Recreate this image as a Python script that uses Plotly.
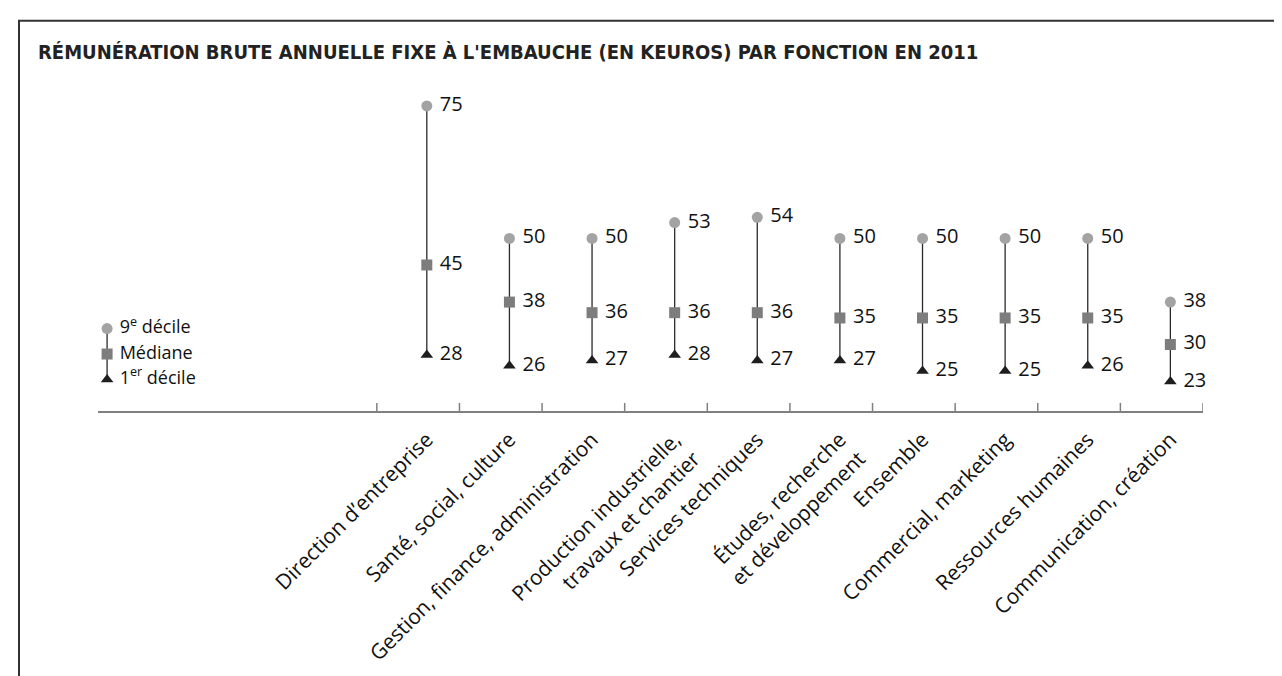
import plotly.graph_objects as go

# ---- data ----
categories = [
    "Direction d’entreprise",
    "Santé, social, culture",
    "Gestion, finance, administration",
    "Production industrielle,<br>travaux et chantier",
    "Services techniques",
    "Études, recherche<br>et développement",
    "Ensemble",
    "Commercial, marketing",
    "Ressources humaines",
    "Communication, création",
]
decile9 = [75, 50, 50, 53, 54, 50, 50, 50, 50, 38]
mediane = [45, 38, 36, 36, 36, 35, 35, 35, 35, 30]
decile1 = [28, 26, 27, 28, 27, 27, 25, 25, 26, 23]

legend_labels = ["9<sup>e</sup> décile", "Médiane", "1<sup>er</sup> décile"]

TITLE = "RÉMUNÉRATION BRUTE ANNUELLE FIXE À L'EMBAUCHE (EN KEUROS) PAR FONCTION EN 2011"

# ---- style ----
FONT = "Open Sans, Noto Sans, sans-serif"
TITLE_FONT = "DejaVu Sans Condensed, Liberation Sans, sans-serif"
C_CIRCLE = "#a3a3a3"
C_SQUARE = "#7d7d7d"
C_TRI = "#1e1e1e"
C_LINE = "#2a2a2a"
C_AXIS = "#808080"

xs = list(range(len(categories)))

fig = go.Figure()

# vertical range lines
lx, ly = [], []
for x, lo, hi in zip(xs, decile1, decile9):
    lx += [x, x, None]
    ly += [lo, hi, None]
fig.add_trace(go.Scatter(x=lx, y=ly, mode="lines",
                         line=dict(color=C_LINE, width=1.3),
                         hoverinfo="skip", showlegend=False))

label_font = dict(family=FONT, size=20, color="#111111")
legend_font = dict(family=FONT, size=18, color="#111111")

def marker_trace(vals, symbol, color, size):
    return go.Scatter(
        x=xs, y=vals, mode="markers+text",
        marker=dict(symbol=symbol, color=color, size=size, line=dict(width=0)),
        text=[" " + str(v) for v in vals], textposition="middle right",
        textfont=label_font, showlegend=False, cliponaxis=False)

fig.add_trace(marker_trace(decile9, "circle", C_CIRCLE, 11))
fig.add_trace(marker_trace(mediane, "square", C_SQUARE, 11))
fig.add_trace(marker_trace(decile1, "triangle-up", C_TRI, 11))

# legend key (drawn manually)
leg_x = -3.87
leg_y = [33.0, 28.2, 23.4]
fig.add_trace(go.Scatter(x=[leg_x, leg_x], y=[leg_y[0], leg_y[2]], mode="lines",
                         line=dict(color=C_LINE, width=1.3),
                         hoverinfo="skip", showlegend=False))
for yv, sym, col, lab in zip(leg_y, ["circle", "square", "triangle-up"],
                             [C_CIRCLE, C_SQUARE, C_TRI], legend_labels):
    fig.add_trace(go.Scatter(x=[leg_x], y=[yv], mode="markers+text",
                             marker=dict(symbol=sym, color=col, size=11),
                             text=[" " + lab], textposition="middle right",
                             textfont=legend_font, showlegend=False,
                             cliponaxis=False))

# tick marks at category boundaries (pointing upward)
shapes = []
for i in range(len(categories) + 1):
    bx = i - 0.605
    shapes.append(dict(type="line", xref="x", yref="paper",
                       x0=bx, x1=bx, y0=0, y1=0.025,
                       line=dict(color=C_AXIS, width=1.5)))
# frame
shapes.append(dict(type="rect", xref="paper", yref="paper",
                   x0=-0.0715, x1=1.2, y0=-1.2, y1=1.208,
                   line=dict(color="#333333", width=2), fillcolor="rgba(0,0,0,0)",
                   layer="below"))

fig.update_layout(
    width=1282, height=676, autosize=False,
    margin=dict(l=90, r=87, t=80, b=273),
    paper_bgcolor="white", plot_bgcolor="white",
    showlegend=False,
    title=dict(text="<b>" + TITLE + "</b>", x=30 / 1282, xanchor="left",
               y=1 - 44 / 676, yanchor="middle", xref="container", yref="container",
               font=dict(family=TITLE_FONT, size=20, color="#222222")),
    xaxis=dict(range=[-3.98, 9.395], tickvals=xs, ticktext=categories,
               tickangle=-45, ticks="", showline=True, linecolor=C_AXIS,
               linewidth=2, showgrid=False, zeroline=False, fixedrange=True,
               ticklabelstandoff=6,
               tickfont=dict(family=FONT, size=21, color="#111111")),
    yaxis=dict(range=[17.45, 78.39], visible=False, fixedrange=True),
    shapes=shapes,
)

fig.write_html("out.html")
